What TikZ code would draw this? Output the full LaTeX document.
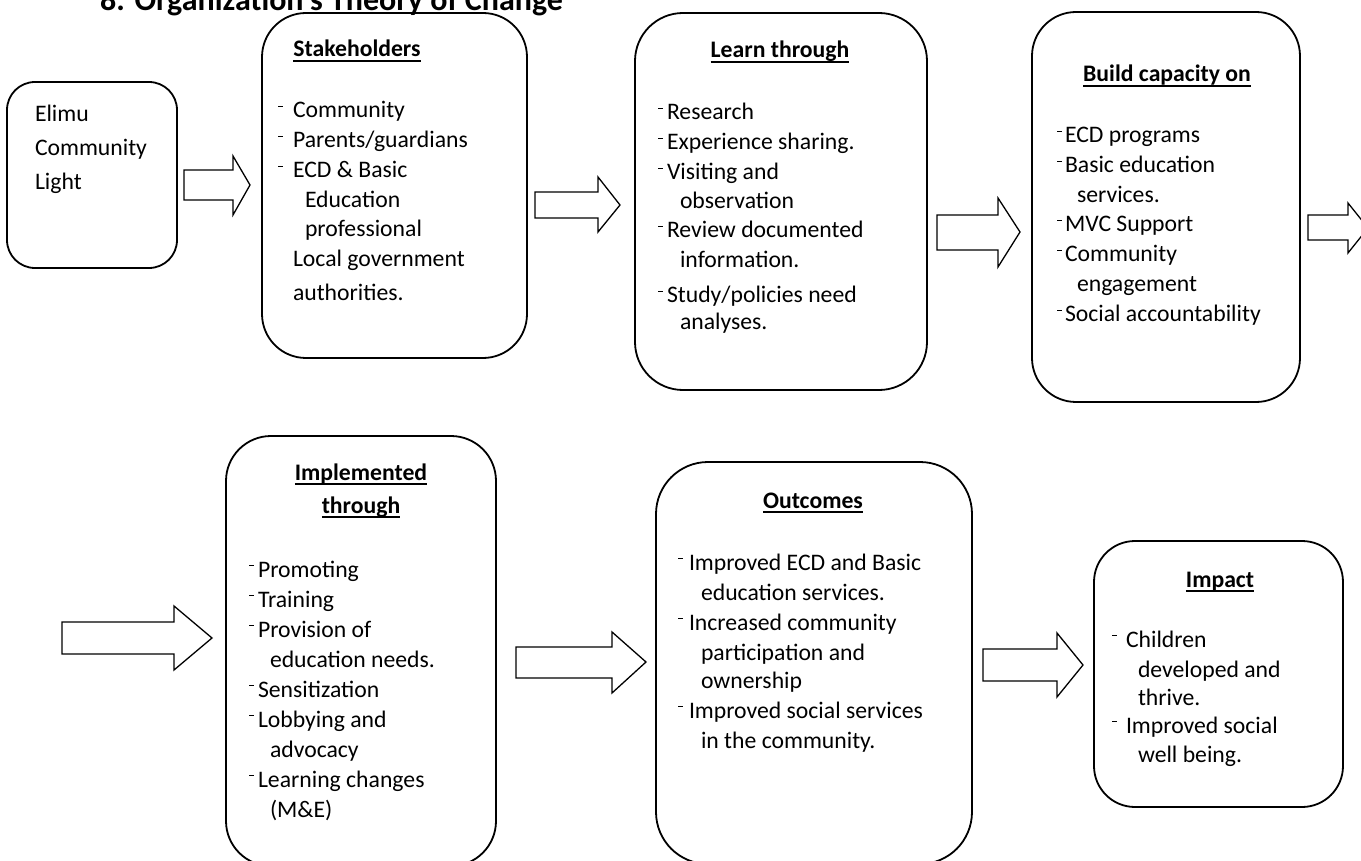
\documentclass[tikz,border=0pt]{standalone}
\usepackage{fontspec}
\setmainfont{Carlito}
\newcommand{\bodyfnt}{\fontsize{23.7}{28}\selectfont}
\newcommand{\ttlfnt}{\fontsize{23.7}{28}\selectfont\bfseries}
\newcommand{\dsh}{\rule[0.45em]{0.2em}{0.065em}}
\newcommand{\ulbox}[1]{\setbox0=\hbox{#1}\rlap{\rule[-0.19em]{\wd0}{0.06em}}\box0}
\newcommand{\blockarr}[9]{%
  % #1 name, #2 x start, #3 x head, #4 x tip, #5 body top, #6 body bottom, #7 head top, #8 head bottom, #9 tip y
  \coordinate (#1) at (#4,#9);
  \draw[barrow] (#2,#5) -- (#3,#5) -- (#3,#7) -- (#1) -- (#3,#8) -- (#3,#6) -- (#2,#6) -- cycle;}
\begin{document}
\begin{tikzpicture}[x=1pt,y=-1pt,
  box/.style={draw, line width=1.8pt, rectangle, inner sep=0pt, outer sep=0pt, fill=none},
  barrow/.style={draw, line width=1.3pt, line join=miter, fill=white},
  ln/.style={anchor=base west, inner sep=0pt, outer sep=0pt, font=\bodyfnt},
  hd/.style={anchor=base, inner sep=0pt, outer sep=0pt, font=\ttlfnt}]
\useasboundingbox (0,0) rectangle (1361,861);
\clip (0,0) rectangle (1361,861);
\fill[white] (0,0) rectangle (1361,861);

% page title (cut at top)
\node[anchor=base west, inner sep=0pt, font=\fontsize{32}{38}\selectfont\bfseries] (title) at (100,11) {8. Organization’s Theory of Change};

% ---------- boxes ----------
\node[box, rounded corners=28pt, minimum width=170pt, minimum height=186pt] (elimu) at (92,175) {};
\node[box, rounded corners=44pt, minimum width=265pt, minimum height=345pt] (stake) at (394.5,185.5) {};
\node[box, rounded corners=48pt, minimum width=292pt, minimum height=377pt] (learn) at (781,201.5) {};
\node[box, rounded corners=44pt, minimum width=268pt, minimum height=390pt] (build) at (1166,207) {};
\node[box, rounded corners=45pt, minimum width=270pt, minimum height=430pt] (impl) at (361,651) {};
\node[box, rounded corners=52pt, minimum width=316pt, minimum height=402pt] (outc) at (814,663) {};
\node[box, rounded corners=41pt, minimum width=249pt, minimum height=266pt] (impa) at (1218.5,674) {};

% ---------- block arrows ----------
\blockarr{a1}{184}{233}{250}{170}{200}{156}{215}{185}
\blockarr{a2}{535}{598}{620}{192}{218}{177}{232}{205}
\blockarr{a3}{937}{998}{1020}{215}{250}{198}{267}{232}
\blockarr{a4}{1308}{1348}{1368}{215}{240}{203}{253}{228}
\blockarr{a5}{62}{174}{212}{622}{654}{606}{670}{638}
\blockarr{a6}{516}{612}{646}{647}{678}{632}{693}{662}
\blockarr{a7}{983}{1057}{1083}{649}{681}{633}{697}{665}

% ---------- Elimu ----------
\node[ln] (e1) at (35,122) {Elimu};
\node[ln] (e2) at (35,156) {Community};
\node[ln] (e3) at (35,190) {Light};

% ---------- Stakeholders ----------
\node[hd] (sh) at (357,57) {\ulbox{Stakeholders}};
\node[ln] (s1d) at (278,118) {\dsh};
\node[ln] (s1) at (293,118) {Community};
\node[ln] (s2d) at (278,148) {\dsh};
\node[ln] (s2) at (293,148) {Parents/guardians};
\node[ln] (s3d) at (278,178) {\dsh};
\node[ln] (s3) at (293,178) {ECD \& Basic};
\node[ln] (s4) at (305,208) {Education};
\node[ln] (s5) at (305,237) {professional};
\node[ln] (s6) at (293,267) {Local government};
\node[ln] (s7) at (293,301) {authorities.};

% ---------- Learn through ----------
\node[hd] (lh) at (780,58) {\ulbox{Learn through}};
\node[ln] (l1d) at (658,120) {\dsh};
\node[ln] (l1) at (667,120) {Research};
\node[ln] (l2d) at (658,150) {\dsh};
\node[ln] (l2) at (667,150) {Experience sharing.};
\node[ln] (l3d) at (658,180) {\dsh};
\node[ln] (l3) at (667,180) {Visiting and};
\node[ln] (l4) at (680,209) {observation};
\node[ln] (l5d) at (658,238) {\dsh};
\node[ln] (l5) at (667,238) {Review documented};
\node[ln] (l6) at (680,268) {information.};
\node[ln] (l7d) at (658,303) {\dsh};
\node[ln] (l7) at (667,303) {Study/policies need};
\node[ln] (l8) at (680,330) {analyses.};

% ---------- Build capacity on ----------
\node[hd] (bh) at (1167,82) {\ulbox{Build capacity on}};
\node[ln] (b1d) at (1057,143) {\dsh};
\node[ln] (b1) at (1065,143) {ECD programs};
\node[ln] (b2d) at (1057,173) {\dsh};
\node[ln] (b2) at (1065,173) {Basic education};
\node[ln] (b3) at (1077,203) {services.};
\node[ln] (b4d) at (1057,232) {\dsh};
\node[ln] (b4) at (1065,232) {MVC Support};
\node[ln] (b5d) at (1057,262) {\dsh};
\node[ln] (b5) at (1065,262) {Community};
\node[ln] (b6) at (1077,292) {engagement};
\node[ln] (b7d) at (1057,322) {\dsh};
\node[ln] (b7) at (1065,322) {Social accountability};

% ---------- Implemented through ----------
\node[hd] (ih1) at (361,480) {\ulbox{Implemented}};
\node[hd] (ih2) at (361,513) {\ulbox{through}};
\node[ln] (i1d) at (249,577) {\dsh};
\node[ln] (i1) at (258,577) {Promoting};
\node[ln] (i2d) at (249,607) {\dsh};
\node[ln] (i2) at (258,607) {Training};
\node[ln] (i3d) at (249,637) {\dsh};
\node[ln] (i3) at (258,637) {Provision of};
\node[ln] (i4) at (270,667) {education needs.};
\node[ln] (i5d) at (249,697) {\dsh};
\node[ln] (i5) at (258,697) {Sensitization};
\node[ln] (i6d) at (249,727) {\dsh};
\node[ln] (i6) at (258,727) {Lobbying and};
\node[ln] (i7) at (270,757) {advocacy};
\node[ln] (i8d) at (249,787) {\dsh};
\node[ln] (i8) at (258,787) {Learning changes};
\node[ln] (i9) at (270,817) {(M\&E)};

% ---------- Outcomes ----------
\node[hd] (oh) at (813,508) {\ulbox{Outcomes}};
\node[ln] (o1d) at (678,570) {\dsh};
\node[ln] (o1) at (689,570) {Improved ECD and Basic};
\node[ln] (o2) at (701,600) {education services.};
\node[ln] (o3d) at (678,630) {\dsh};
\node[ln] (o3) at (689,630) {Increased community};
\node[ln] (o4) at (701,660) {participation and};
\node[ln] (o5) at (701,688) {ownership};
\node[ln] (o6d) at (678,718) {\dsh};
\node[ln] (o6) at (689,718) {Improved social services};
\node[ln] (o7) at (701,748) {in the community.};

% ---------- Impact ----------
\node[hd] (mh) at (1220,587) {\ulbox{Impact}};
\node[ln] (m1d) at (1112,647) {\dsh};
\node[ln] (m1) at (1126,647) {Children};
\node[ln] (m2) at (1138,677) {developed and};
\node[ln] (m3) at (1138,705) {thrive.};
\node[ln] (m4d) at (1112,733) {\dsh};
\node[ln] (m4) at (1126,733) {Improved social};
\node[ln] (m5) at (1138,762) {well being.};
\end{tikzpicture}
\end{document}
